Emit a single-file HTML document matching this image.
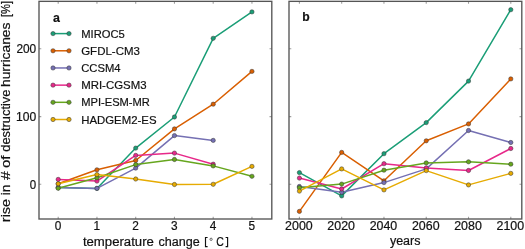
<!DOCTYPE html><html><head><meta charset="utf-8"><style>html,body{margin:0;padding:0;background:#fff;width:525px;height:249px;overflow:hidden}svg{display:block}text{font-family:"Liberation Sans",sans-serif;fill:#111;stroke:#111;stroke-width:0.2px}svg{will-change:transform}</style></head><body>
<svg width="525" height="249" viewBox="0 0 525 249">
<defs><clipPath id="cl"><rect x="39.0" y="1.35" width="232.8" height="217.65"/></clipPath><clipPath id="cr"><rect x="289.0" y="1.35" width="232.79999999999995" height="217.65"/></clipPath></defs>
<path d="M58.20,219.0 v-2.3 M58.20,1.35 v2.3 M96.95,219.0 v-2.3 M96.95,1.35 v2.3 M135.70,219.0 v-2.3 M135.70,1.35 v2.3 M174.45,219.0 v-2.3 M174.45,1.35 v2.3 M213.20,219.0 v-2.3 M213.20,1.35 v2.3 M251.95,219.0 v-2.3 M251.95,1.35 v2.3 M299.40,219.0 v-2.3 M299.40,1.35 v2.3 M341.68,219.0 v-2.3 M341.68,1.35 v2.3 M383.96,219.0 v-2.3 M383.96,1.35 v2.3 M426.24,219.0 v-2.3 M426.24,1.35 v2.3 M468.52,219.0 v-2.3 M468.52,1.35 v2.3 M510.80,219.0 v-2.3 M510.80,1.35 v2.3 M39.0,184.3 h2.3 M271.8,184.3 h-2.3 M289.0,184.3 h2.3 M521.8,184.3 h-2.3 M39.0,116.6 h2.3 M271.8,116.6 h-2.3 M289.0,116.6 h2.3 M521.8,116.6 h-2.3 M39.0,48.8 h2.3 M271.8,48.8 h-2.3 M289.0,48.8 h2.3 M521.8,48.8 h-2.3" stroke="#a0a0a0" stroke-width="1.1" fill="none"/>
<g clip-path="url(#cl)">
<path d="M58.20,187.60 L96.95,188.40 L135.70,148.10 L174.45,117.00 L213.20,38.30 L251.95,11.90" fill="none" stroke="#1b9e77" stroke-width="1.5" stroke-linejoin="round"/><circle cx="58.20" cy="187.60" r="2.15" fill="#1b9e77" stroke="#333" stroke-width="0.5"/><circle cx="96.95" cy="188.40" r="2.15" fill="#1b9e77" stroke="#333" stroke-width="0.5"/><circle cx="135.70" cy="148.10" r="2.15" fill="#1b9e77" stroke="#333" stroke-width="0.5"/><circle cx="174.45" cy="117.00" r="2.15" fill="#1b9e77" stroke="#333" stroke-width="0.5"/><circle cx="213.20" cy="38.30" r="2.15" fill="#1b9e77" stroke="#333" stroke-width="0.5"/><circle cx="251.95" cy="11.90" r="2.15" fill="#1b9e77" stroke="#333" stroke-width="0.5"/>
<path d="M58.20,183.80 L96.95,169.80 L135.70,160.50 L174.45,128.90 L213.20,104.20 L251.95,71.40" fill="none" stroke="#d95f02" stroke-width="1.5" stroke-linejoin="round"/><circle cx="58.20" cy="183.80" r="2.15" fill="#d95f02" stroke="#333" stroke-width="0.5"/><circle cx="96.95" cy="169.80" r="2.15" fill="#d95f02" stroke="#333" stroke-width="0.5"/><circle cx="135.70" cy="160.50" r="2.15" fill="#d95f02" stroke="#333" stroke-width="0.5"/><circle cx="174.45" cy="128.90" r="2.15" fill="#d95f02" stroke="#333" stroke-width="0.5"/><circle cx="213.20" cy="104.20" r="2.15" fill="#d95f02" stroke="#333" stroke-width="0.5"/><circle cx="251.95" cy="71.40" r="2.15" fill="#d95f02" stroke="#333" stroke-width="0.5"/>
<path d="M58.20,187.60 L96.95,188.40 L135.70,168.10 L174.45,135.60 L213.20,140.40" fill="none" stroke="#7570b3" stroke-width="1.5" stroke-linejoin="round"/><circle cx="58.20" cy="187.60" r="2.15" fill="#7570b3" stroke="#333" stroke-width="0.5"/><circle cx="96.95" cy="188.40" r="2.15" fill="#7570b3" stroke="#333" stroke-width="0.5"/><circle cx="135.70" cy="168.10" r="2.15" fill="#7570b3" stroke="#333" stroke-width="0.5"/><circle cx="174.45" cy="135.60" r="2.15" fill="#7570b3" stroke="#333" stroke-width="0.5"/><circle cx="213.20" cy="140.40" r="2.15" fill="#7570b3" stroke="#333" stroke-width="0.5"/>
<path d="M58.20,179.40 L96.95,181.10 L135.70,155.40 L174.45,153.10 L213.20,164.20" fill="none" stroke="#e7298a" stroke-width="1.5" stroke-linejoin="round"/><circle cx="58.20" cy="179.40" r="2.15" fill="#e7298a" stroke="#333" stroke-width="0.5"/><circle cx="96.95" cy="181.10" r="2.15" fill="#e7298a" stroke="#333" stroke-width="0.5"/><circle cx="135.70" cy="155.40" r="2.15" fill="#e7298a" stroke="#333" stroke-width="0.5"/><circle cx="174.45" cy="153.10" r="2.15" fill="#e7298a" stroke="#333" stroke-width="0.5"/><circle cx="213.20" cy="164.20" r="2.15" fill="#e7298a" stroke="#333" stroke-width="0.5"/>
<path d="M58.20,188.30 L96.95,177.80 L135.70,164.60 L174.45,159.50 L213.20,165.90 L251.95,176.30" fill="none" stroke="#66a61e" stroke-width="1.5" stroke-linejoin="round"/><circle cx="58.20" cy="188.30" r="2.15" fill="#66a61e" stroke="#333" stroke-width="0.5"/><circle cx="96.95" cy="177.80" r="2.15" fill="#66a61e" stroke="#333" stroke-width="0.5"/><circle cx="135.70" cy="164.60" r="2.15" fill="#66a61e" stroke="#333" stroke-width="0.5"/><circle cx="174.45" cy="159.50" r="2.15" fill="#66a61e" stroke="#333" stroke-width="0.5"/><circle cx="213.20" cy="165.90" r="2.15" fill="#66a61e" stroke="#333" stroke-width="0.5"/><circle cx="251.95" cy="176.30" r="2.15" fill="#66a61e" stroke="#333" stroke-width="0.5"/>
<path d="M58.20,183.80 L96.95,174.60 L135.70,179.00 L174.45,184.50 L213.20,184.30 L251.95,166.40" fill="none" stroke="#e6ab02" stroke-width="1.5" stroke-linejoin="round"/><circle cx="58.20" cy="183.80" r="2.15" fill="#e6ab02" stroke="#333" stroke-width="0.5"/><circle cx="96.95" cy="174.60" r="2.15" fill="#e6ab02" stroke="#333" stroke-width="0.5"/><circle cx="135.70" cy="179.00" r="2.15" fill="#e6ab02" stroke="#333" stroke-width="0.5"/><circle cx="174.45" cy="184.50" r="2.15" fill="#e6ab02" stroke="#333" stroke-width="0.5"/><circle cx="213.20" cy="184.30" r="2.15" fill="#e6ab02" stroke="#333" stroke-width="0.5"/><circle cx="251.95" cy="166.40" r="2.15" fill="#e6ab02" stroke="#333" stroke-width="0.5"/>
</g><g clip-path="url(#cr)">
<path d="M299.40,172.60 L341.68,195.90 L383.96,153.70 L426.24,122.60 L468.52,81.10 L510.80,9.70" fill="none" stroke="#1b9e77" stroke-width="1.5" stroke-linejoin="round"/><circle cx="299.40" cy="172.60" r="2.15" fill="#1b9e77" stroke="#333" stroke-width="0.5"/><circle cx="341.68" cy="195.90" r="2.15" fill="#1b9e77" stroke="#333" stroke-width="0.5"/><circle cx="383.96" cy="153.70" r="2.15" fill="#1b9e77" stroke="#333" stroke-width="0.5"/><circle cx="426.24" cy="122.60" r="2.15" fill="#1b9e77" stroke="#333" stroke-width="0.5"/><circle cx="468.52" cy="81.10" r="2.15" fill="#1b9e77" stroke="#333" stroke-width="0.5"/><circle cx="510.80" cy="9.70" r="2.15" fill="#1b9e77" stroke="#333" stroke-width="0.5"/>
<path d="M299.40,211.40 L341.68,152.40 L383.96,180.80 L426.24,140.80 L468.52,123.90 L510.80,78.90" fill="none" stroke="#d95f02" stroke-width="1.5" stroke-linejoin="round"/><circle cx="299.40" cy="211.40" r="2.15" fill="#d95f02" stroke="#333" stroke-width="0.5"/><circle cx="341.68" cy="152.40" r="2.15" fill="#d95f02" stroke="#333" stroke-width="0.5"/><circle cx="383.96" cy="180.80" r="2.15" fill="#d95f02" stroke="#333" stroke-width="0.5"/><circle cx="426.24" cy="140.80" r="2.15" fill="#d95f02" stroke="#333" stroke-width="0.5"/><circle cx="468.52" cy="123.90" r="2.15" fill="#d95f02" stroke="#333" stroke-width="0.5"/><circle cx="510.80" cy="78.90" r="2.15" fill="#d95f02" stroke="#333" stroke-width="0.5"/>
<path d="M299.40,186.50 L341.68,192.30 L383.96,182.60 L426.24,168.90 L468.52,130.50 L510.80,142.50" fill="none" stroke="#7570b3" stroke-width="1.5" stroke-linejoin="round"/><circle cx="299.40" cy="186.50" r="2.15" fill="#7570b3" stroke="#333" stroke-width="0.5"/><circle cx="341.68" cy="192.30" r="2.15" fill="#7570b3" stroke="#333" stroke-width="0.5"/><circle cx="383.96" cy="182.60" r="2.15" fill="#7570b3" stroke="#333" stroke-width="0.5"/><circle cx="426.24" cy="168.90" r="2.15" fill="#7570b3" stroke="#333" stroke-width="0.5"/><circle cx="468.52" cy="130.50" r="2.15" fill="#7570b3" stroke="#333" stroke-width="0.5"/><circle cx="510.80" cy="142.50" r="2.15" fill="#7570b3" stroke="#333" stroke-width="0.5"/>
<path d="M299.40,178.10 L341.68,189.00 L383.96,163.70 L426.24,167.90 L468.52,170.50 L510.80,148.50" fill="none" stroke="#e7298a" stroke-width="1.5" stroke-linejoin="round"/><circle cx="299.40" cy="178.10" r="2.15" fill="#e7298a" stroke="#333" stroke-width="0.5"/><circle cx="341.68" cy="189.00" r="2.15" fill="#e7298a" stroke="#333" stroke-width="0.5"/><circle cx="383.96" cy="163.70" r="2.15" fill="#e7298a" stroke="#333" stroke-width="0.5"/><circle cx="426.24" cy="167.90" r="2.15" fill="#e7298a" stroke="#333" stroke-width="0.5"/><circle cx="468.52" cy="170.50" r="2.15" fill="#e7298a" stroke="#333" stroke-width="0.5"/><circle cx="510.80" cy="148.50" r="2.15" fill="#e7298a" stroke="#333" stroke-width="0.5"/>
<path d="M299.40,187.70 L341.68,184.10 L383.96,170.20 L426.24,162.90 L468.52,161.80 L510.80,164.20" fill="none" stroke="#66a61e" stroke-width="1.5" stroke-linejoin="round"/><circle cx="299.40" cy="187.70" r="2.15" fill="#66a61e" stroke="#333" stroke-width="0.5"/><circle cx="341.68" cy="184.10" r="2.15" fill="#66a61e" stroke="#333" stroke-width="0.5"/><circle cx="383.96" cy="170.20" r="2.15" fill="#66a61e" stroke="#333" stroke-width="0.5"/><circle cx="426.24" cy="162.90" r="2.15" fill="#66a61e" stroke="#333" stroke-width="0.5"/><circle cx="468.52" cy="161.80" r="2.15" fill="#66a61e" stroke="#333" stroke-width="0.5"/><circle cx="510.80" cy="164.20" r="2.15" fill="#66a61e" stroke="#333" stroke-width="0.5"/>
<path d="M299.40,191.10 L341.68,168.90 L383.96,189.90 L426.24,170.60 L468.52,184.90 L510.80,173.40" fill="none" stroke="#e6ab02" stroke-width="1.5" stroke-linejoin="round"/><circle cx="299.40" cy="191.10" r="2.15" fill="#e6ab02" stroke="#333" stroke-width="0.5"/><circle cx="341.68" cy="168.90" r="2.15" fill="#e6ab02" stroke="#333" stroke-width="0.5"/><circle cx="383.96" cy="189.90" r="2.15" fill="#e6ab02" stroke="#333" stroke-width="0.5"/><circle cx="426.24" cy="170.60" r="2.15" fill="#e6ab02" stroke="#333" stroke-width="0.5"/><circle cx="468.52" cy="184.90" r="2.15" fill="#e6ab02" stroke="#333" stroke-width="0.5"/><circle cx="510.80" cy="173.40" r="2.15" fill="#e6ab02" stroke="#333" stroke-width="0.5"/>
</g>
<path d="M53,33.60 H69" stroke="#1b9e77" stroke-width="1.5"/>
<circle cx="53.00" cy="33.60" r="2.15" fill="#1b9e77" stroke="#333" stroke-width="0.5"/>
<circle cx="69.00" cy="33.60" r="2.15" fill="#1b9e77" stroke="#333" stroke-width="0.5"/>
<text x="81.20" y="37.60" font-size="11.6" textLength="43.60" lengthAdjust="spacingAndGlyphs">MIROC5</text>
<path d="M53,50.78 H69" stroke="#d95f02" stroke-width="1.5"/>
<circle cx="53.00" cy="50.78" r="2.15" fill="#d95f02" stroke="#333" stroke-width="0.5"/>
<circle cx="69.00" cy="50.78" r="2.15" fill="#d95f02" stroke="#333" stroke-width="0.5"/>
<text x="81.20" y="54.78" font-size="11.6" textLength="58.70" lengthAdjust="spacingAndGlyphs">GFDL-CM3</text>
<path d="M53,67.96 H69" stroke="#7570b3" stroke-width="1.5"/>
<circle cx="53.00" cy="67.96" r="2.15" fill="#7570b3" stroke="#333" stroke-width="0.5"/>
<circle cx="69.00" cy="67.96" r="2.15" fill="#7570b3" stroke="#333" stroke-width="0.5"/>
<text x="81.20" y="71.96" font-size="11.6" textLength="39.40" lengthAdjust="spacingAndGlyphs">CCSM4</text>
<path d="M53,85.14 H69" stroke="#e7298a" stroke-width="1.5"/>
<circle cx="53.00" cy="85.14" r="2.15" fill="#e7298a" stroke="#333" stroke-width="0.5"/>
<circle cx="69.00" cy="85.14" r="2.15" fill="#e7298a" stroke="#333" stroke-width="0.5"/>
<text x="81.20" y="89.14" font-size="11.6" textLength="65.30" lengthAdjust="spacingAndGlyphs">MRI-CGSM3</text>
<path d="M53,102.32 H69" stroke="#66a61e" stroke-width="1.5"/>
<circle cx="53.00" cy="102.32" r="2.15" fill="#66a61e" stroke="#333" stroke-width="0.5"/>
<circle cx="69.00" cy="102.32" r="2.15" fill="#66a61e" stroke="#333" stroke-width="0.5"/>
<text x="81.20" y="106.32" font-size="11.6" textLength="68.70" lengthAdjust="spacingAndGlyphs">MPI-ESM-MR</text>
<path d="M53,119.50 H69" stroke="#e6ab02" stroke-width="1.5"/>
<circle cx="53.00" cy="119.50" r="2.15" fill="#e6ab02" stroke="#333" stroke-width="0.5"/>
<circle cx="69.00" cy="119.50" r="2.15" fill="#e6ab02" stroke="#333" stroke-width="0.5"/>
<text x="81.20" y="123.50" font-size="11.6" textLength="75.30" lengthAdjust="spacingAndGlyphs">HADGEM2-ES</text>
<rect x="39.0" y="1.35" width="232.8" height="217.65" fill="none" stroke="#555" stroke-width="1.35"/>
<rect x="289.0" y="1.35" width="232.79999999999995" height="217.65" fill="none" stroke="#555" stroke-width="1.35"/>
<text x="53.0" y="21.6" font-size="12" font-weight="bold" textLength="6.9" lengthAdjust="spacingAndGlyphs">a</text>
<text x="302.3" y="20.9" font-size="12" font-weight="bold" textLength="7.4" lengthAdjust="spacingAndGlyphs">b</text>
<text x="58.00" y="230.10" font-size="11.9" text-anchor="middle" textLength="6.60" lengthAdjust="spacingAndGlyphs">0</text>
<text x="96.75" y="230.10" font-size="11.9" text-anchor="middle" textLength="6.60" lengthAdjust="spacingAndGlyphs">1</text>
<text x="135.50" y="230.10" font-size="11.9" text-anchor="middle" textLength="6.60" lengthAdjust="spacingAndGlyphs">2</text>
<text x="174.25" y="230.10" font-size="11.9" text-anchor="middle" textLength="6.60" lengthAdjust="spacingAndGlyphs">3</text>
<text x="213.00" y="230.10" font-size="11.9" text-anchor="middle" textLength="6.60" lengthAdjust="spacingAndGlyphs">4</text>
<text x="251.75" y="230.10" font-size="11.9" text-anchor="middle" textLength="6.60" lengthAdjust="spacingAndGlyphs">5</text>
<text x="298.90" y="230.10" font-size="11.9" text-anchor="middle" textLength="27.60" lengthAdjust="spacingAndGlyphs">2000</text>
<text x="341.18" y="230.10" font-size="11.9" text-anchor="middle" textLength="27.60" lengthAdjust="spacingAndGlyphs">2020</text>
<text x="383.46" y="230.10" font-size="11.9" text-anchor="middle" textLength="27.60" lengthAdjust="spacingAndGlyphs">2040</text>
<text x="425.74" y="230.10" font-size="11.9" text-anchor="middle" textLength="27.60" lengthAdjust="spacingAndGlyphs">2060</text>
<text x="468.02" y="230.10" font-size="11.9" text-anchor="middle" textLength="27.60" lengthAdjust="spacingAndGlyphs">2080</text>
<text x="510.30" y="230.10" font-size="11.9" text-anchor="middle" textLength="27.60" lengthAdjust="spacingAndGlyphs">2100</text>
<text x="36.20" y="189.20" font-size="11.9" text-anchor="end" textLength="6.40" lengthAdjust="spacingAndGlyphs">0</text>
<text x="36.20" y="120.60" font-size="11.9" text-anchor="end" textLength="20.20" lengthAdjust="spacingAndGlyphs">100</text>
<text x="36.20" y="53.10" font-size="11.9" text-anchor="end" textLength="19.80" lengthAdjust="spacingAndGlyphs">200</text>
<text x="82.90" y="245.80" font-size="12.3" textLength="71.00" lengthAdjust="spacingAndGlyphs">temperature</text>
<text x="158.40" y="245.80" font-size="12.3" textLength="41.30" lengthAdjust="spacingAndGlyphs">change</text>
<path d="M207.6,237.5 H205.5 V246.6 H207.6" fill="none" stroke="#111" stroke-width="1.15"/>
<circle cx="211.1" cy="239.3" r="1.15" fill="none" stroke="#111" stroke-width="0.6"/>
<text x="216.20" y="245.80" font-size="12.3" textLength="7.60" lengthAdjust="spacingAndGlyphs">C</text>
<path d="M225.6,237.5 H227.6 V246.6 H225.6" fill="none" stroke="#111" stroke-width="1.15"/>
<text x="389.90" y="244.50" font-size="12.3" textLength="30.60" lengthAdjust="spacingAndGlyphs">years</text>
<g transform="translate(10.1,0) rotate(-90)">
<text x="-222.20" y="0.00" font-size="12.3" textLength="23.30" lengthAdjust="spacingAndGlyphs">rise</text>
<text x="-195.20" y="0.00" font-size="12.3" textLength="10.60" lengthAdjust="spacingAndGlyphs">in</text>
<text x="-180.10" y="0.00" font-size="12.3" textLength="8.80" lengthAdjust="spacingAndGlyphs">#</text>
<text x="-168.00" y="0.00" font-size="12.3" textLength="12.50" lengthAdjust="spacingAndGlyphs">of</text>
<text x="-151.70" y="0.00" font-size="12.3" textLength="62.10" lengthAdjust="spacingAndGlyphs">destructive</text>
<text x="-87.00" y="0.00" font-size="12.3" textLength="64.40" lengthAdjust="spacingAndGlyphs">hurricanes</text>
<text x="-17.00" y="0.00" font-size="12.3" textLength="16.10" lengthAdjust="spacingAndGlyphs">[%]</text>
</g>
</svg></body></html>
